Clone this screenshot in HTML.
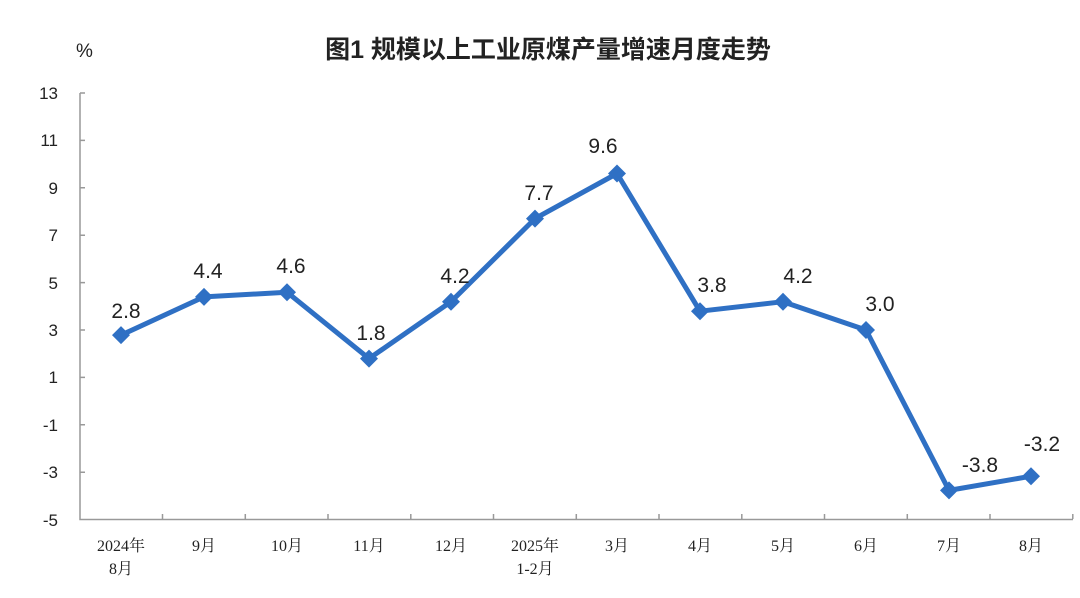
<!DOCTYPE html>
<html><head><meta charset="utf-8"><style>body{margin:0;background:#fff}svg{display:block}</style></head>
<body>
<svg width="1080" height="598" xmlns="http://www.w3.org/2000/svg">
<text x="548" y="58" text-anchor="middle" font-family="'Liberation Sans','Noto Sans CJK SC',sans-serif" font-size="25" font-weight="bold" fill="#222">图1  规模以上工业原煤产量增速月度走势</text>
<text x="76" y="57" font-family="'Liberation Sans',sans-serif" font-size="19" fill="#222">%</text>
<g stroke="#999" stroke-width="1.5" fill="none">
<path d="M80,93 V519.5 H1073"/>
<path d="M80,93h5M80,140.4h5M80,187.8h5M80,235.2h5M80,282.6h5M80,330h5M80,377.4h5M80,424.8h5M80,472.2h5"/>
<path d="M162.5,519v-5M245.3,519v-5M328,519v-5M410.8,519v-5M493.5,519v-5M576.3,519v-5M659,519v-5M741.8,519v-5M824.5,519v-5M907.3,519v-5M990,519v-5M1072.8,519v-5"/>
</g>
<g font-family="'Liberation Sans',sans-serif" font-size="17" fill="#222" text-anchor="end">
<text x="58" y="99">13</text><text x="58" y="146">11</text><text x="58" y="194">9</text><text x="58" y="241">7</text><text x="58" y="289">5</text><text x="58" y="336">3</text><text x="58" y="383">1</text><text x="58" y="431">-1</text><text x="58" y="478">-3</text><text x="58" y="526">-5</text>
</g>
<g font-family="'Liberation Serif','Noto Serif CJK SC',serif" font-size="16" fill="#222" text-anchor="middle">
<text x="121" y="551">2024年</text><text x="121" y="574">8月</text>
<text x="204" y="551">9月</text><text x="287" y="551">10月</text><text x="369" y="551">11月</text><text x="451" y="551">12月</text>
<text x="535" y="551">2025年</text><text x="535" y="574">1-2月</text>
<text x="617" y="551">3月</text><text x="700" y="551">4月</text><text x="783" y="551">5月</text><text x="866" y="551">6月</text><text x="949" y="551">7月</text><text x="1031" y="551">8月</text>
</g>
<polyline fill="none" stroke="#2f70c4" stroke-width="5" stroke-linejoin="round" points="121,335.1 204,296.9 287,292.2 369,358.6 451,301.7 535,218.6 617,173.5 700,311.2 783,301.7 866,330 949,490.4 1031,476.2"/>
<g fill="#2f70c4">
<path d="M121,326.1l9,9l-9,9l-9,-9z"/><path d="M204,287.9l9,9l-9,9l-9,-9z"/><path d="M287,283.2l9,9l-9,9l-9,-9z"/><path d="M369,349.6l9,9l-9,9l-9,-9z"/><path d="M451,292.7l9,9l-9,9l-9,-9z"/><path d="M535,209.6l9,9l-9,9l-9,-9z"/><path d="M617,164.5l9,9l-9,9l-9,-9z"/><path d="M700,302.2l9,9l-9,9l-9,-9z"/><path d="M783,292.7l9,9l-9,9l-9,-9z"/><path d="M866,321l9,9l-9,9l-9,-9z"/><path d="M949,481.4l9,9l-9,9l-9,-9z"/><path d="M1031,467.2l9,9l-9,9l-9,-9z"/>
</g>
<g font-family="'Liberation Sans',sans-serif" font-size="21" fill="#222" text-anchor="middle">
<text x="126" y="318">2.8</text><text x="208" y="278">4.4</text><text x="291" y="273">4.6</text><text x="371" y="340">1.8</text><text x="455" y="283">4.2</text><text x="539" y="200">7.7</text><text x="603" y="153">9.6</text><text x="712" y="292">3.8</text><text x="798" y="283">4.2</text><text x="880" y="311">3.0</text><text x="980" y="472">-3.8</text><text x="1042" y="451">-3.2</text>
</g>
</svg>
</body></html>
